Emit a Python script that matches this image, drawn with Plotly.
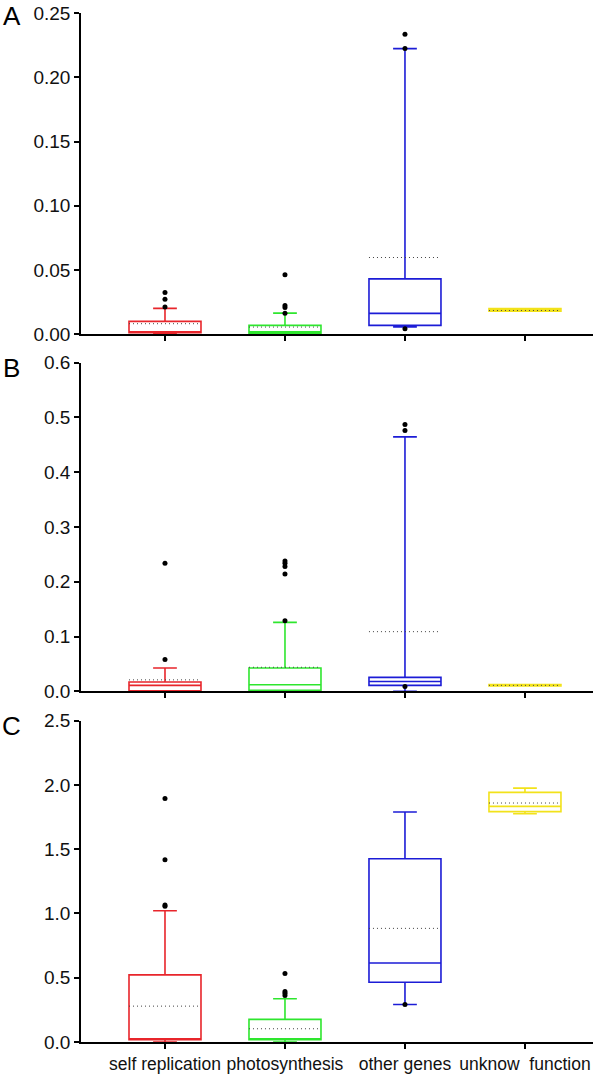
import plotly.graph_objects as go

categories = ["self replication", "photosynthesis", "other genes", "unknow  function"]
colors = ["#e8252b", "#2ee62e", "#1c1cd6", "#f2e21a"]

# Panel A
A_q1 = [0.0013, 0.0010, 0.0070, 0.0180]
A_median = [0.0016, 0.0020, 0.0163, 0.0186]
A_q3 = [0.0101, 0.0070, 0.0432, 0.0200]
A_low = [0.0000, 0.0000, 0.0057, 0.0180]
A_high = [0.0202, 0.0165, 0.2223, 0.0200]
A_mean = [0.0083, 0.0057, 0.0598, 0.0186]
A_out = [[0.0212, 0.0274, 0.0326], [0.0165, 0.0210, 0.0225, 0.0463], [0.0044, 0.2223, 0.2334], []]

# Panel B
B_q1 = [0.0010, 0.0020, 0.0110, 0.0100]
B_median = [0.0110, 0.0120, 0.0180, 0.0110]
B_q3 = [0.0170, 0.0426, 0.0255, 0.0125]
B_low = [0.0000, 0.0000, 0.0000, 0.0100]
B_high = [0.0426, 0.1260, 0.4645, 0.0125]
B_mean = [0.0210, 0.0440, 0.1090, 0.0110]
B_out = [[0.0580, 0.2340], [0.1290, 0.2140, 0.2280, 0.2340, 0.2380], [0.0090, 0.4760, 0.4870], []]

# Panel C
C_q1 = [0.018, 0.018, 0.465, 1.792]
C_median = [0.018, 0.018, 0.615, 1.833]
C_q3 = [0.522, 0.176, 1.425, 1.942]
C_low = [0.000, 0.000, 0.292, 1.776]
C_high = [1.021, 0.336, 1.789, 1.975]
C_mean = [0.279, 0.103, 0.884, 1.859]
C_out = [[1.055, 1.065, 1.417, 1.895], [0.362, 0.380, 0.393, 0.532], [0.292], []]

panels = [
    ("A", A_q1, A_median, A_q3, A_low, A_high, A_mean, A_out, [0, 0.25], [0, 0.05, 0.10, 0.15, 0.20, 0.25], ".2f"),
    ("B", B_q1, B_median, B_q3, B_low, B_high, B_mean, B_out, [0, 0.6], [0, 0.1, 0.2, 0.3, 0.4, 0.5, 0.6], ".1f"),
    ("C", C_q1, C_median, C_q3, C_low, C_high, C_mean, C_out, [0, 2.5], [0, 0.5, 1.0, 1.5, 2.0, 2.5], ".1f"),
]

W, H = 596, 1077
ml, mr, mt, mb = 81, 3, 12, 34
ph = H - mt - mb
pw = W - ml - mr

def ypaper(px):
    return 1 - (px - mt) / ph

domains = [(ypaper(334), ypaper(12)), (ypaper(691.7), ypaper(362.3)), (ypaper(1043), ypaper(721))]
letter_y = [15, 367.5, 726.5]

box_w = 0.6
fig = go.Figure()
font_fam = "Liberation Sans, Arial, sans-serif"

for p, (letter, q1, med, q3, lo, hi, mn, outs, yr, yt, fmt) in enumerate(panels):
    xa = "x" if p == 0 else f"x{p+1}"
    ya = "y" if p == 0 else f"y{p+1}"
    for i in range(len(categories)):
        fig.add_trace(go.Box(
            x=[i], q1=[q1[i]], median=[med[i]], q3=[q3[i]],
            lowerfence=[lo[i]], upperfence=[hi[i]],
            width=box_w, whiskerwidth=0.33,
            line=dict(color=colors[i], width=1.6),
            fillcolor="rgba(0,0,0,0)", boxpoints=False,
            xaxis=xa, yaxis=ya, showlegend=False, hoverinfo="skip"))
        fig.add_trace(go.Scatter(
            x=[i - box_w / 2, i + box_w / 2], y=[mn[i], mn[i]], mode="lines",
            line=dict(color="#444444", width=1, dash="1px,3px"),
            xaxis=xa, yaxis=ya, showlegend=False, hoverinfo="skip"))
        if outs[i]:
            fig.add_trace(go.Scatter(
                x=[i] * len(outs[i]), y=outs[i], mode="markers",
                marker=dict(color="black", size=5),
                xaxis=xa, yaxis=ya, showlegend=False, hoverinfo="skip"))
    xkey = "xaxis" if p == 0 else f"xaxis{p+1}"
    ykey = "yaxis" if p == 0 else f"yaxis{p+1}"
    fig.layout[xkey] = dict(
        domain=[0, 1], anchor=ya, range=[-0.7, 3.567],
        tickvals=list(range(len(categories))), ticktext=categories,
        showticklabels=(p == 2), ticks="outside", ticklen=5, tickwidth=1.5,
        tickcolor="black", showline=True, linecolor="black", linewidth=1.5,
        showgrid=False, zeroline=False,
        tickfont=dict(family=font_fam, size=17.5, color="#111111"))
    fig.layout[ykey] = dict(
        domain=list(domains[p]), anchor=xa, range=yr,
        tickvals=yt, tickformat=fmt, ticks="outside", ticklen=5, tickwidth=1.5,
        tickcolor="black", showline=True, linecolor="black", linewidth=1.5,
        showgrid=False, zeroline=False,
        tickfont=dict(family=font_fam, size=19, color="#111111"))
    fig.add_annotation(
        text=letter, xref="paper", yref="paper",
        x=(11.5 - ml) / pw, y=ypaper(letter_y[p]),
        xanchor="center", yanchor="middle", showarrow=False,
        font=dict(family=font_fam, size=26, color="black"))

fig.update_layout(
    width=W, height=H, margin=dict(l=ml, r=mr, t=mt, b=mb),
    plot_bgcolor="white", paper_bgcolor="white", showlegend=False)

fig.write_html("out.html", config={"displayModeBar": False},
               post_script="document.body.style.margin='0';document.body.style.overflow='hidden';")
